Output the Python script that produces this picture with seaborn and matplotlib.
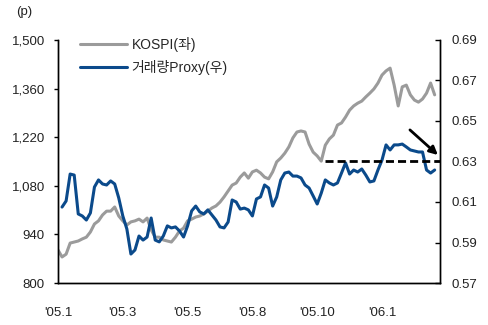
import numpy as np
import pandas as pd
import matplotlib
matplotlib.use("Agg")
import matplotlib.pyplot as plt
import seaborn as sns

# Category axis: one tick every 16 observations
tick_labels = ["'05.1", "'05.3", "'05.5", "'05.8", "'05.10", "'06.1"]
tick_step = 16

# KOSPI index (left axis, points)
kospi = [
    895, 875, 883, 915, 918, 921, 927, 932, 947, 970,
    979, 996, 1007, 1007, 1019, 993, 979, 967, 976, 979,
    984, 976, 987, 953, 932, 932, 924, 921, 918, 932,
    950, 958, 979, 984, 990, 993, 999, 1007, 1016, 1022,
    1033, 1048, 1065, 1082, 1088, 1105, 1117, 1102, 1120, 1125,
    1117, 1105, 1100, 1120, 1149, 1160, 1174, 1192, 1218, 1235,
    1238, 1235, 1200, 1177, 1166, 1151, 1197, 1215, 1226, 1255,
    1261, 1278, 1298, 1310, 1318, 1324, 1336, 1347, 1359, 1376,
    1399, 1411, 1419, 1370, 1310, 1365, 1370, 1342, 1327, 1321,
    1330, 1347, 1376, 1342,
]

# Trading-volume proxy (right axis)
proxy = [
    np.nan, 0.6075, 0.6105, 0.6238, 0.6233, 0.6041, 0.6031, 0.6011, 0.6046, 0.6174,
    0.6209, 0.6189, 0.6184, 0.6204, 0.6189, 0.6120, 0.6031, 0.5967, 0.5843, 0.5863,
    0.5932, 0.5912, 0.5927, 0.6021, 0.5912, 0.5903, 0.5932, 0.5982, 0.5972, 0.5977,
    0.5957, 0.5927, 0.5982, 0.6056, 0.6080, 0.6051, 0.6041, 0.6061, 0.6036, 0.6011,
    0.5977, 0.5972, 0.6001, 0.6110, 0.6100, 0.6065, 0.6070, 0.6061, 0.6031, 0.6115,
    0.6125, 0.6184, 0.6169, 0.6080, 0.6125, 0.6209, 0.6243, 0.6248, 0.6228, 0.6228,
    0.6219, 0.6184, 0.6169, 0.6130, 0.6090, 0.6144, 0.6209, 0.6194, 0.6184, 0.6194,
    0.6243, 0.6293, 0.6238, 0.6258, 0.6248, 0.6263, 0.6233, 0.6199, 0.6204, 0.6258,
    0.6307, 0.6382, 0.6357, 0.6382, 0.6382, 0.6386, 0.6372, 0.6357, 0.6352, 0.6347,
    0.6347, 0.6258, 0.6243, 0.6258,
]

left_ticks = [800, 940, 1080, 1220, 1360, 1500]
right_ticks = [0.57, 0.59, 0.61, 0.63, 0.65, 0.67, 0.69]

# Reference level for the proxy and the downward-trend arrow
ref_level = 0.63
ref_start = 66
arrow_from = (86.9, 0.6456)
arrow_to = (93.8, 0.6332)

GRAY = "#9b9b9b"
BLUE = "#0b4a8b"

sns.set_theme(style="white")
plt.rcParams["font.family"] = ["Liberation Sans", "Noto Sans CJK KR"]
plt.rcParams["axes.unicode_minus"] = False

df = pd.DataFrame({
    "t": np.arange(len(kospi)),
    "kospi": kospi,
    "proxy": proxy,
})

fig = plt.figure(figsize=(4.88, 3.25), dpi=100)
fig.patch.set_facecolor("white")
ax = fig.add_axes([58 / 488, 1 - 283 / 325, 382 / 488, 243 / 325])
ax2 = ax.twinx()

sns.lineplot(data=df, x="t", y="kospi", ax=ax, color=GRAY, lw=2.2,
             label="KOSPI(좌)", legend=False)
sns.lineplot(data=df, x="t", y="proxy", ax=ax2, color=BLUE, lw=2.2,
             label="거래량Proxy(우)", legend=False)

x_right = 94.32
ax.set_xlim(0, x_right)
ax.set_ylim(left_ticks[0], left_ticks[-1])
ax2.set_ylim(right_ticks[0], right_ticks[-1])

ax.set_xticks(np.arange(len(tick_labels)) * tick_step)
ax.set_xticklabels(tick_labels)
ax.set_yticks(left_ticks)
ax.set_yticklabels([f"{v:,}" for v in left_ticks])
ax2.set_yticks(right_ticks)
ax2.set_yticklabels([f"{v:.2f}" for v in right_ticks])

for a in (ax, ax2):
    a.set_xlabel("")
    a.set_ylabel("")
    a.grid(False)
    a.set_facecolor("none")
    for side in ("left", "right", "bottom"):
        a.spines[side].set_visible(True)
        a.spines[side].set_color("black")
        a.spines[side].set_linewidth(1.0)
    a.spines["top"].set_visible(False)

ax.tick_params(axis="x", direction="in", length=3.6, width=1, colors="black",
               pad=17, labelsize=9.5, labelcolor="#222222")
ax.tick_params(axis="y", direction="out", length=2.9, width=1, colors="black",
               pad=6.5, labelsize=9.5, labelcolor="#222222", left=True)
ax2.tick_params(axis="y", direction="in", length=3.6, width=1, colors="black",
                pad=8.6, labelsize=9.5, labelcolor="#222222", right=True)

# Reference line at 0.63 and trend arrow
ax2.hlines(ref_level, ref_start, x_right, colors="black",
           linestyles=(0, (2.9, 1.45)), lw=2.0, zorder=5)
ax2.annotate("", xy=arrow_to, xytext=arrow_from,
             arrowprops=dict(arrowstyle="-|>", color="black", lw=2.0,
                             mutation_scale=12, shrinkA=0, shrinkB=0),
             zorder=6)

h1, l1 = ax.get_legend_handles_labels()
h2, l2 = ax2.get_legend_handles_labels()
ax2.legend(h1 + h2, l1 + l2, loc="upper left",
           bbox_to_anchor=(80 / 488, 1 - 37 / 325),
           bbox_transform=fig.transFigure, frameon=False, fontsize=10,
           handlelength=3.4, handletextpad=0.3, borderpad=0, borderaxespad=0,
           labelspacing=0.55)

fig.text(24 / 488, 1 - 12 / 325, "(p)", ha="center", va="center",
         fontsize=9.5, color="#222222")

fig.savefig("out.png", dpi=100, facecolor="white")
